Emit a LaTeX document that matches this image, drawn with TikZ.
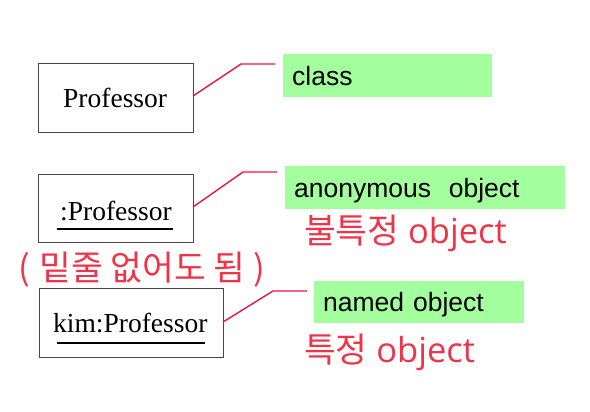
\documentclass[tikz,border=0pt]{standalone}
\usepackage{fontspec}
\setmainfont{Liberation Serif}
\newfontfamily\arialf{Liberation Sans}
\newfontfamily\krf{Noto Sans CJK KR}
\newfontfamily\latf{Open Sans}
\definecolor{lblgreen}{RGB}{163,255,158}
\definecolor{linkred}{RGB}{234,22,72}
\definecolor{barpink}{RGB}{240,120,140}
\definecolor{txtred}{RGB}{240,52,72}
\begin{document}
\begin{tikzpicture}[x=1pt,y=-1pt,
  objbox/.style={draw=black!72, line width=1pt, rectangle, inner sep=0pt, anchor=north west},
  objtext/.style={inner sep=0pt, anchor=base west, font=\fontsize{27.5}{30}\selectfont},
  uline/.style={line width=1.6pt, black},
  tag/.style={fill=lblgreen, rectangle, anchor=north west, inner xsep=9pt, inner ysep=0pt,
    align=left, text height=19pt, text depth=0pt, font=\arialf\fontsize{26.5}{30}\selectfont},
  link/.style={draw=linkred, line width=1.4pt},
  bar/.style={draw=barpink, line width=0.7pt, double=white, double distance=1.4pt},
  note/.style={inner sep=0pt, anchor=base west, text=txtred, font=\fontsize{34.5}{38}\selectfont}
]
\useasboundingbox (0,0) rectangle (590,412);

% object boxes
\node[objbox, minimum width=155pt, minimum height=69pt] (b1) at (38,63) {};
\node[objbox, minimum width=155pt, minimum height=68pt] (b2) at (38,174) {};
\node[objbox, minimum width=184pt, minimum height=69pt] (b3) at (39,288) {};

\node[objtext] (t1) at (63,108) {Professor};
\node[objtext] (t2) at (60,220) {:Professor};
\node[objtext] (t3) at (53,332) {kim:Professor};
\draw[uline] ([xshift=-3pt,yshift=-9pt]t2.base west) -- ([xshift=1pt,yshift=-9pt]t2.base east);
\draw[uline] ([xshift=4pt,yshift=-11pt]t3.base west) -- ([xshift=-3pt,yshift=-11pt]t3.base east);

% green tags
\node[tag, text width=191pt, minimum height=43pt] (g1) at (283,54) {class};
\node[tag, text width=262pt, minimum height=43pt] (g2) at (285,166) {anonymous~ object};
\node[tag, text width=192pt, minimum height=42pt] (g3) at (314,281) {named object};

% bars
\coordinate (r1t) at (276,54);  \coordinate (r1b) at (276,97);
\coordinate (r2t) at (278,166); \coordinate (r2b) at (278,209);
\coordinate (r3t) at (308,281); \coordinate (r3b) at (308,323);
\draw[bar] (r1t) -- (r1b);
\draw[bar] (r2t) -- (r2b);
\draw[bar] (r3t) -- (r3b);

% connectors
\coordinate (k1) at (241,64);  \coordinate (e1) at (275,64);
\coordinate (k2) at (243,172); \coordinate (e2) at (277,172);
\coordinate (k3) at (273,291); \coordinate (e3) at (307,291);
\coordinate (s1) at (193,96);
\coordinate (s2) at (193,207);
\coordinate (s3) at (223,322);
\draw[link] (s1) -- (k1) -- (e1);
\draw[link] (s2) -- (k2) -- (e2);
\draw[link] (s3) -- (k3) -- (e3);

% red notes
\node[note] (n1) at (18,280) {\krf (\hspace{2pt} 밑줄 없어도 됨 )};
\node[note] (n2) at (304,243) {{\krf 불특정} {\latf object}};
\node[note] (n3) at (304,362) {{\krf 특정} {\latf object}};
\end{tikzpicture}
\end{document}
